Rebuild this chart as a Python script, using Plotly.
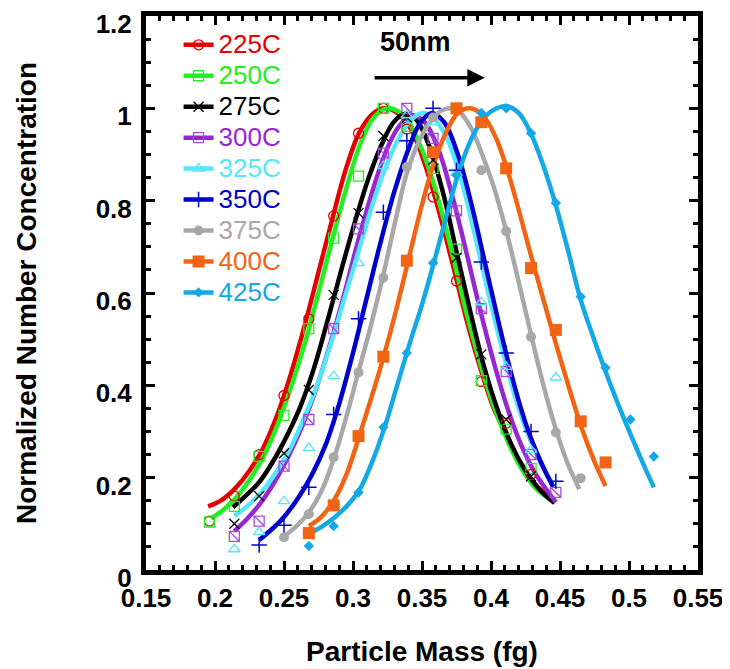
import plotly.graph_objects as go

# ---------------- data ----------------
temps = ["225C", "250C", "275C", "300C", "325C", "350C", "375C", "400C", "425C"]
colors = ["#e60000", "#22ee22", "#000000", "#9628d2", "#55e6fa", "#0000cc", "#a8a8a8", "#f06414", "#14a8e4"]
marker_colors = ["#e60000", "#22ee22", "#000000", "#a848e0", "#55e6fa", "#0000cc", "#a8a8a8", "#f06414", "#14a8e4"]

# measured points (markers)
m225_x = [0.196, 0.214, 0.232, 0.250, 0.268, 0.286, 0.304, 0.322, 0.339, 0.358, 0.375, 0.393, 0.411, 0.429]
m225_y = [0.106, 0.160, 0.250, 0.378, 0.544, 0.767, 0.946, 1.000, 0.955, 0.808, 0.626, 0.408, 0.318, 0.207]
m250_x = [0.196, 0.214, 0.232, 0.250, 0.268, 0.286, 0.304, 0.322, 0.339, 0.358, 0.375, 0.393, 0.411, 0.429]
m250_y = [0.104, 0.138, 0.246, 0.335, 0.523, 0.719, 0.853, 1.000, 0.961, 0.870, 0.695, 0.410, 0.305, 0.220]
m275_x = [0.214, 0.232, 0.250, 0.268, 0.286, 0.304, 0.322, 0.339, 0.358, 0.375, 0.393, 0.411, 0.429]
m275_y = [0.100, 0.160, 0.253, 0.390, 0.596, 0.773, 0.940, 0.980, 0.888, 0.676, 0.467, 0.326, 0.203]
m300_x = [0.214, 0.232, 0.250, 0.268, 0.286, 0.304, 0.322, 0.339, 0.358, 0.375, 0.393, 0.411, 0.429, 0.447]
m300_y = [0.073, 0.106, 0.225, 0.326, 0.523, 0.739, 0.903, 1.000, 0.935, 0.778, 0.566, 0.430, 0.250, 0.168]
m325_x = [0.214, 0.232, 0.250, 0.268, 0.286, 0.304, 0.322, 0.339, 0.358, 0.375, 0.393, 0.411, 0.429, 0.447]
m325_y = [0.045, 0.082, 0.149, 0.264, 0.420, 0.665, 0.875, 0.985, 0.970, 0.860, 0.580, 0.440, 0.260, 0.417]
m350_x = [0.232, 0.250, 0.268, 0.286, 0.304, 0.322, 0.339, 0.358, 0.375, 0.393, 0.411, 0.429, 0.447]
m350_y = [0.054, 0.097, 0.179, 0.337, 0.544, 0.775, 0.930, 1.000, 0.866, 0.667, 0.470, 0.300, 0.192]
m375_x = [0.250, 0.268, 0.286, 0.304, 0.322, 0.339, 0.358, 0.375, 0.393, 0.411, 0.429, 0.447, 0.465]
m375_y = [0.071, 0.121, 0.244, 0.428, 0.633, 0.873, 0.980, 1.000, 0.866, 0.734, 0.505, 0.298, 0.199]
m400_x = [0.268, 0.286, 0.304, 0.322, 0.339, 0.358, 0.375, 0.393, 0.411, 0.429, 0.447, 0.465, 0.483]
m400_y = [0.080, 0.140, 0.290, 0.462, 0.670, 0.905, 1.000, 0.970, 0.870, 0.654, 0.520, 0.322, 0.233]
m425_x = [0.268, 0.286, 0.304, 0.322, 0.339, 0.358, 0.375, 0.393, 0.411, 0.429, 0.447, 0.465, 0.483, 0.501, 0.518]
m425_y = [0.052, 0.095, 0.168, 0.309, 0.470, 0.665, 0.855, 0.990, 1.000, 0.946, 0.795, 0.592, 0.438, 0.326, 0.246]

# fitted curves
c225_x = [0.195, 0.205, 0.215, 0.225, 0.235, 0.245, 0.255, 0.265, 0.275, 0.285, 0.295, 0.305, 0.315, 0.323, 0.332, 0.342, 0.352, 0.362, 0.372, 0.382, 0.392, 0.402, 0.412, 0.422, 0.432, 0.443]
c225_y = [0.138, 0.152, 0.178, 0.215, 0.265, 0.335, 0.425, 0.530, 0.645, 0.760, 0.870, 0.950, 0.990, 1.000, 0.990, 0.955, 0.880, 0.780, 0.665, 0.545, 0.440, 0.350, 0.290, 0.225, 0.185, 0.158]
c250_x = [0.197, 0.205, 0.215, 0.225, 0.235, 0.245, 0.255, 0.265, 0.275, 0.285, 0.295, 0.305, 0.315, 0.325, 0.333, 0.342, 0.352, 0.362, 0.372, 0.382, 0.392, 0.402, 0.412, 0.422, 0.432, 0.443]
c250_y = [0.112, 0.128, 0.156, 0.195, 0.245, 0.312, 0.395, 0.490, 0.600, 0.715, 0.825, 0.920, 0.980, 1.000, 0.993, 0.962, 0.895, 0.800, 0.685, 0.560, 0.450, 0.355, 0.280, 0.220, 0.178, 0.152]
c275_x = [0.213, 0.222, 0.232, 0.242, 0.252, 0.262, 0.272, 0.282, 0.292, 0.302, 0.312, 0.322, 0.330, 0.338, 0.346, 0.355, 0.365, 0.375, 0.385, 0.395, 0.405, 0.415, 0.425, 0.435, 0.446]
c275_y = [0.136, 0.160, 0.190, 0.235, 0.290, 0.355, 0.440, 0.545, 0.655, 0.760, 0.855, 0.930, 0.972, 0.988, 0.975, 0.920, 0.820, 0.690, 0.560, 0.440, 0.345, 0.270, 0.215, 0.175, 0.145]
c300_x = [0.214, 0.223, 0.233, 0.243, 0.253, 0.263, 0.273, 0.283, 0.293, 0.303, 0.313, 0.323, 0.333, 0.343, 0.352, 0.362, 0.372, 0.382, 0.392, 0.402, 0.412, 0.422, 0.432, 0.447]
c300_y = [0.084, 0.110, 0.145, 0.190, 0.245, 0.310, 0.390, 0.485, 0.590, 0.705, 0.810, 0.900, 0.960, 0.985, 0.970, 0.910, 0.810, 0.690, 0.565, 0.450, 0.350, 0.270, 0.210, 0.147]
c325_x = [0.214, 0.224, 0.234, 0.244, 0.254, 0.264, 0.274, 0.284, 0.294, 0.304, 0.314, 0.324, 0.334, 0.342, 0.350, 0.358, 0.368, 0.378, 0.388, 0.398, 0.408, 0.418, 0.428, 0.438, 0.446]
c325_y = [0.117, 0.140, 0.170, 0.210, 0.260, 0.325, 0.400, 0.490, 0.590, 0.690, 0.790, 0.875, 0.940, 0.975, 0.990, 0.980, 0.935, 0.850, 0.730, 0.600, 0.480, 0.370, 0.285, 0.220, 0.180]
c350_x = [0.232, 0.240, 0.250, 0.260, 0.270, 0.280, 0.290, 0.300, 0.310, 0.320, 0.330, 0.340, 0.348, 0.357, 0.366, 0.376, 0.386, 0.396, 0.406, 0.416, 0.426, 0.436, 0.445]
c350_y = [0.065, 0.085, 0.115, 0.155, 0.205, 0.270, 0.360, 0.470, 0.590, 0.710, 0.820, 0.910, 0.965, 0.990, 0.970, 0.900, 0.790, 0.660, 0.530, 0.410, 0.310, 0.235, 0.180]
c375_x = [0.250, 0.259, 0.268, 0.277, 0.286, 0.295, 0.304, 0.313, 0.322, 0.331, 0.339, 0.348, 0.357, 0.364, 0.371, 0.378, 0.386, 0.393, 0.402, 0.411, 0.420, 0.429, 0.438, 0.447, 0.455, 0.464]
c375_y = [0.073, 0.095, 0.125, 0.170, 0.240, 0.330, 0.430, 0.530, 0.640, 0.760, 0.860, 0.930, 0.975, 0.995, 1.000, 0.990, 0.955, 0.905, 0.830, 0.735, 0.625, 0.510, 0.400, 0.305, 0.235, 0.175]
c400_x = [0.268, 0.277, 0.286, 0.295, 0.304, 0.313, 0.322, 0.331, 0.340, 0.349, 0.358, 0.367, 0.376, 0.385, 0.394, 0.403, 0.412, 0.421, 0.430, 0.439, 0.448, 0.457, 0.466, 0.475, 0.483]
c400_y = [0.095, 0.115, 0.150, 0.205, 0.285, 0.370, 0.460, 0.560, 0.670, 0.780, 0.875, 0.945, 0.990, 1.000, 0.985, 0.940, 0.865, 0.770, 0.670, 0.575, 0.480, 0.390, 0.305, 0.235, 0.182]
c425_x = [0.269, 0.278, 0.287, 0.296, 0.305, 0.314, 0.323, 0.332, 0.341, 0.350, 0.359, 0.368, 0.377, 0.386, 0.395, 0.404, 0.411, 0.420, 0.429, 0.438, 0.447, 0.456, 0.465, 0.474, 0.483, 0.492, 0.501, 0.510, 0.518]
c425_y = [0.080, 0.095, 0.115, 0.140, 0.175, 0.235, 0.310, 0.400, 0.490, 0.575, 0.670, 0.770, 0.865, 0.935, 0.980, 1.000, 1.005, 0.990, 0.945, 0.875, 0.790, 0.690, 0.585, 0.505, 0.430, 0.360, 0.295, 0.232, 0.179]

marker_x = [m225_x, m250_x, m275_x, m300_x, m325_x, m350_x, m375_x, m400_x, m425_x]
marker_y = [m225_y, m250_y, m275_y, m300_y, m325_y, m350_y, m375_y, m400_y, m425_y]
curve_x = [c225_x, c250_x, c275_x, c300_x, c325_x, c350_x, c375_x, c400_x, c425_x]
curve_y = [c225_y, c250_y, c275_y, c300_y, c325_y, c350_y, c375_y, c400_y, c425_y]

x_ticks = [0.15, 0.2, 0.25, 0.3, 0.35, 0.4, 0.45, 0.5, 0.55]
y_ticks = [0, 0.2, 0.4, 0.6, 0.8, 1, 1.2]

# ---------------- styles ----------------
symbols = ["circle-open", "square-open", "x-thin-open", "square-open", "triangle-up-open",
           "cross-thin-open", "circle", "square", "diamond"]
sizes = [10, 10, 10, 10, 10, 11, 10, 12, 8]
mline = [1.3, 1.3, 1.3, 1.3, 1.3, 1.5, 0, 0, 0]

FONT = "Arial, Liberation Sans, Helvetica, sans-serif"

fig = go.Figure()

for cx, cy, col in zip(curve_x, curve_y, colors):
    fig.add_trace(go.Scatter(x=cx, y=cy, mode="lines",
                             line=dict(color=col, width=4.5, shape="spline", smoothing=1.0),
                             showlegend=False, hoverinfo="skip"))

for i, (mx, my) in enumerate(zip(marker_x, marker_y)):
    fig.add_trace(go.Scatter(x=mx, y=my, mode="markers",
                             marker=dict(symbol=symbols[i], size=sizes[i], color=marker_colors[i],
                                         line=dict(color=marker_colors[i], width=mline[i])),
                             showlegend=False, hoverinfo="skip"))
    if temps[i] == "300C":
        fig.add_trace(go.Scatter(x=mx, y=my, mode="markers",
                                 marker=dict(symbol="line-nw", size=sizes[i], color=marker_colors[i],
                                             line=dict(color=marker_colors[i], width=1.3)),
                                 showlegend=False, hoverinfo="skip"))

for i, t in enumerate(temps):
    fig.add_trace(go.Scatter(x=[None], y=[None], mode="lines+markers",
                             name=f'<span style="font-size:26px;color:{colors[i]}">{t}</span>',
                             line=dict(color=colors[i], width=4.5),
                             marker=dict(symbol=symbols[i], size=sizes[i], color=marker_colors[i],
                                         line=dict(color=marker_colors[i], width=mline[i]))))

# 50nm arrow
fig.add_annotation(x=0.3955, y=1.066, ax=0.3146, ay=1.066, xref="x", yref="y", axref="x", ayref="y",
                   text="", showarrow=True, arrowhead=2, arrowsize=1, arrowwidth=3.5, arrowcolor="black")
fig.add_annotation(x=0.345, y=1.143, xref="x", yref="y", text="<b>50nm</b>", showarrow=False,
                   font=dict(family=FONT, size=27, color="black"))

axis_common = dict(showline=True, linewidth=5, linecolor="black", mirror="allticks",
                   ticks="inside", ticklen=9, tickwidth=3, tickcolor="black",
                   showgrid=False, zeroline=False, ticklabeloverflow="allow",
                   tickfont=dict(family=FONT, size=26, color="black", weight="bold"))

fig.update_xaxes(range=[0.15, 0.55], tickvals=x_ticks, ticktext=[str(v) for v in x_ticks],
                 minor=dict(dtick=0.01, tick0=0.15, ticks="inside", ticklen=5, tickwidth=2.5,
                            tickcolor="black", showgrid=False),
                 ticklabelstandoff=1,
                 title=dict(text="Particle Mass (fg)", font=dict(family=FONT, size=28, color="black", weight="bold"),
                            standoff=31),
                 **axis_common)
fig.update_yaxes(range=[0, 1.2], tickvals=y_ticks, ticktext=[str(v) for v in y_ticks],
                 minor=dict(dtick=0.05, tick0=0, ticks="inside", ticklen=5, tickwidth=2.5,
                            tickcolor="black", showgrid=False),
                 ticklabelstandoff=4, ticklabelshift=8,
                 title=dict(text="Normalized Number Concentration",
                            font=dict(family=FONT, size=28, color="black", weight="bold"),
                            standoff=52),
                 **axis_common)

fig.update_layout(
    width=722, height=661,
    margin=dict(l=138, r=32, t=8, b=99, autoexpand=False),
    paper_bgcolor="white", plot_bgcolor="white",
    showlegend=True,
    legend=dict(x=0.059, y=0.985, xanchor="left", yanchor="top", bgcolor="rgba(0,0,0,0)",
                font=dict(family=FONT, size=21.5, color="black"),
                tracegroupgap=0),
)

fig.write_html("out.html")
